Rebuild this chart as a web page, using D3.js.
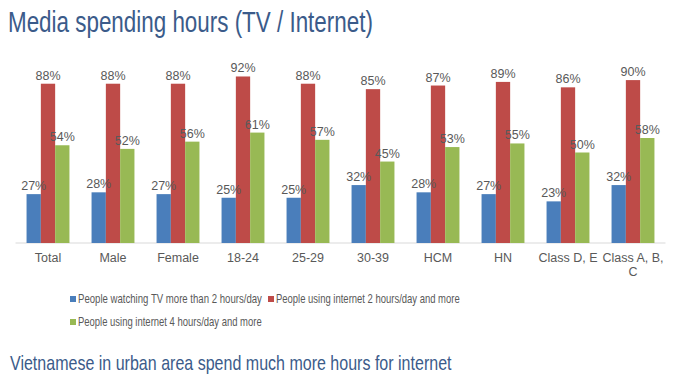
<!DOCTYPE html>
<html>
<head>
<meta charset="utf-8">
<script src="https://cdn.jsdelivr.net/npm/d3@7"></script>
<style>
  body { margin: 0; background: #fff; }
  text { font-family: "Liberation Sans", Arial, sans-serif; }
</style>
</head>
<body>
<div id="chartArea"></div>
<script>
// chart data
const categories = ['Total', 'Male', 'Female', '18-24', '25-29', '30-39', 'HCM', 'HN', 'Class D, E', 'Class A, B, C'];
const seriesNames = [
   'People watching TV more than 2 hours/day',
   'People using internet 2 hours/day and more',
   'People using internet 4 hours/day and more'
];
const tvDaily = [27, 28, 27, 25, 25, 32, 28, 27, 23, 32];
const net2Hours = [88, 88, 88, 92, 88, 85, 87, 89, 86, 90];
const net4Hours = [54, 52, 56, 61, 57, 45, 53, 55, 50, 58];
const titleText = 'Media spending hours (TV / Internet)';
const footerText = 'Vietnamese in urban area spend much more hours for internet';

const colors = ['#4a7ebb', '#be4b48', '#98b954'];
const values = [tvDaily, net2Hours, net4Hours];

const W = 676, H = 375;
const svg = d3.select('#chartArea').append('svg')
   .attr('width', W)
   .attr('height', H);

// the source uses a narrow face, so squeeze text horizontally to a width
function narrowText(parent, x, y, size, fill, width, str) {
   const t = parent.append('text')
      .attr('font-size', size)
      .attr('fill', fill)
      .text(str);
   const sx = width / t.node().getComputedTextLength();
   t.attr('transform', `translate(${x},${y}) scale(${sx},1)`);
   return t;
}

narrowText(svg, 8, 32, 30, '#3b5b8a', 365, titleText);

const x0 = d3.scaleBand()
   .domain(categories)
   .range([15.5, 665.5])
   .paddingInner(0.34)
   .paddingOuter(0.17);

const x1 = d3.scaleBand()
   .domain(d3.range(seriesNames.length))
   .range([0, x0.bandwidth()]);

const y = d3.scaleLinear()
   .domain([0, 100])
   .range([243, 62]);

// baseline
svg.append('line')
   .attr('x1', x0.range()[0]).attr('x2', x0.range()[1])
   .attr('y1', y(0)).attr('y2', y(0))
   .attr('stroke', '#d9d9d9')
   .attr('stroke-width', 1);

const rows = categories.map((c, i) => ({ cat: c, vals: values.map(v => v[i]) }));

const groups = svg.selectAll('g.grp').data(rows)
   .enter().append('g')
   .attr('class', 'grp')
   .attr('transform', d => `translate(${x0(d.cat)},0)`);

groups.selectAll('rect').data(d => d.vals)
   .enter().append('rect')
   .attr('x', (d, i) => x1(i))
   .attr('y', d => y(d))
   .attr('width', x1.bandwidth())
   .attr('height', d => y(0) - y(d))
   .attr('fill', (d, i) => colors[i]);

groups.selectAll('text.val').data(d => d.vals)
   .enter().append('text')
   .attr('class', 'val')
   .attr('x', (d, i) => x1(i) + x1.bandwidth() / 2)
   .attr('y', d => y(d) - 4)
   .attr('text-anchor', 'middle')
   .attr('font-size', 12.5)
   .attr('fill', '#595959')
   .text(d => d + '%');

// category axis labels, wrapped to the band step
const xAxis = svg.append('g')
   .attr('transform', `translate(0,${y(0)})`)
   .call(d3.axisBottom(x0).tickSize(0).tickPadding(10));
xAxis.select('.domain').remove();
xAxis.selectAll('text')
   .attr('font-size', 12.5)
   .attr('font-family', '"Liberation Sans", Arial, sans-serif')
   .attr('fill', '#595959')
   .call(wrap, x0.step());

function wrap(sel, width) {
   sel.each(function () {
      const t = d3.select(this);
      const words = t.text().split(/\s+/);
      const dy = parseFloat(t.attr('dy')) || 0;
      t.text(null);
      let line = [];
      let tspan = t.append('tspan').attr('x', 0).attr('dy', dy + 'em');
      words.forEach(w => {
         line.push(w);
         tspan.text(line.join(' '));
         if (tspan.node().getComputedTextLength() > width && line.length > 1) {
            line.pop();
            tspan.text(line.join(' '));
            line = [w];
            tspan = t.append('tspan').attr('x', 0).attr('dy', '1.15em').text(w);
         }
      });
   });
}

// legend
const legendPos = [[70, 303], [268, 303], [70, 326]];
const legend = svg.selectAll('g.leg').data(seriesNames)
   .enter().append('g')
   .attr('class', 'leg')
   .attr('transform', (d, i) => `translate(${legendPos[i][0]},${legendPos[i][1]})`);
legend.append('rect')
   .attr('x', 0).attr('y', -7)
   .attr('width', 6).attr('height', 6)
   .attr('fill', (d, i) => colors[i]);
legend.each(function (d) {
   narrowText(d3.select(this), 8, 0, 12, '#595959', 184, d);
});

// footer
narrowText(svg, 10, 370, 20, '#3b5b8a', 442, footerText);
</script>
</body>
</html>
